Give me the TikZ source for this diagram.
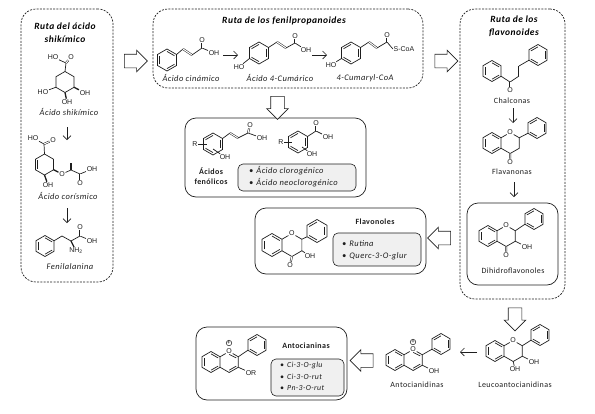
\documentclass[tikz,border=0pt]{standalone}
\usepackage{fontspec}
\setmainfont{Carlito}[LetterSpace=5]
\newfontfamily\atomf{Liberation Sans}
\usetikzlibrary{calc,arrows.meta,shapes.arrows}
\definecolor{ink}{HTML}{1E1E1E}
\definecolor{panel}{HTML}{F0F0F0}
\tikzset{
  b/.style={draw=ink,line width=.7pt},
  dbl/.style={draw=ink,line width=.5pt,double,double distance=1pt},
  wb/.style={draw=ink,line width=1.3pt},
  atm/.style={inner sep=.6pt,font=\atomf\fontsize{7}{8}\selectfont,text=ink},
  plusmark/.style={circle,draw=ink,line width=.5pt,inner sep=0pt,minimum size=5.5pt,font=\atomf\fontsize{6}{6}\selectfont},
  lab/.style={inner sep=0pt,font=\fontsize{8}{9}\selectfont,text=ink},
  ilab/.style={inner sep=0pt,font=\itshape\fontsize{8.5}{9}\selectfont,text=ink},
  slab/.style={inner sep=0pt,font=\itshape\fontsize{7.8}{9}\selectfont,text=ink},
  ttl/.style={inner sep=0pt,font=\bfseries\itshape\fontsize{9.5}{11}\selectfont,text=black},
  btl/.style={inner sep=0pt,font=\bfseries\fontsize{8}{9}\selectfont,text=ink},
  route/.style={draw=ink,dashed,dash pattern=on 2pt off 1.3pt,line width=.7pt,rounded corners=15pt,inner sep=0pt},
  card/.style={draw=ink,line width=.7pt,rounded corners=11pt,inner sep=0pt},
  panelbox/.style={draw=ink,line width=.6pt,fill=panel,rounded corners=5pt,inner sep=0pt},
  thinarrow/.style={draw=ink,line width=.6pt,-{Straight Barb[length=4pt,width=8pt]}},
  block/.style={single arrow,draw=ink,line width=.6pt,fill=white,inner xsep=0pt,inner ysep=6.5pt,single arrow head extend=4pt,single arrow tip angle=90,minimum height=23pt},
}
% coordinates of a pointed-top hexagon: v0 top, clockwise
\newcommand{\hexc}[4]{%
  \coordinate (#1c) at ({#2},{#3});
  \foreach \k in {0,...,5}{\coordinate (#1\k) at ({(#2)+(#4)*cos(-90+60*\k)},{(#3)+(#4)*sin(-90+60*\k)});}%
}
\newcommand{\hexp}[4]{%
  \hexc{#1}{#2}{#3}{#4}%
  \draw[b] (#10)--(#11)--(#12)--(#13)--(#14)--(#15)--cycle;%
}
\newcommand{\innerb}[2]{%
  \pgfmathtruncatemacro\nxt{mod(#2+1,6)}%
  \draw[b] ($(#1c)!.78!(#1#2)$) -- ($(#1c)!.78!(#1\nxt)$);%
}
\newcommand{\hexr}[5]{%
  \hexp{#1}{#2}{#3}{#4}%
  \foreach \e in {#5}{\innerb{#1}{\e}}%
}
% A ring, O-containing ring, B ring
\newcommand{\flav}[6]{%
  \hexr{#1a}{#2}{#3}{#4}{0,2,4}%
  \hexc{#1c}{(#2)+1.732*(#4)}{#3}{#4}%
  \hexr{#1b}{#5}{#6}{#4}{1,3,5}%
  \node[atm] (#1O) at (#1c0) {O};%
  \draw[b] (#1a1)--(#1O)--(#1c1)--(#1c2)--(#1c3)--(#1a2);%
  \draw[b] (#1c1)--(#1b4);%
}
\begin{document}
\begin{tikzpicture}[x=1pt,y=-1pt]
\useasboundingbox (0,0) rectangle (595,413);
% ---------- containers
\node[route,minimum width=92pt,minimum height=273pt] (route1) at (67,145.5) {};
\node[route,minimum width=270pt,minimum height=79pt] (route2) at (288,48.5) {};
\node[route,minimum width=105pt,minimum height=290pt] (route3) at (512.5,154) {};
\node[card,minimum width=181pt,minimum height=79pt] (acids) at (275.5,157.5) {};
\node[card,minimum width=171pt,minimum height=66pt] (flavonols) at (340.5,241) {};
\node[card,minimum width=91pt,minimum height=82pt] (dihydro) at (512.5,244) {};
\node[card,minimum width=151pt,minimum height=73pt] (antho) at (271.5,363.5) {};
\node[panelbox,minimum width=118pt,minimum height=27pt] (pan1) at (297,177.5) {};
\node[panelbox,minimum width=88pt,minimum height=33pt] (pan2) at (377,249.5) {};
\node[panelbox,minimum width=73pt,minimum height=37pt] (pan3) at (307.5,377.5) {};
% ---------- block arrows
\node[block] (ba1) at (132.5,61) {};
\node[block,rotate=-90] (ba2) at (277.5,104.5) {};
\node[block] (ba3) at (443,61) {};
\node[block,rotate=180] (ba4) at (442.5,238) {};
\node[block,rotate=-90] (ba5) at (515,316) {};
\node[block,rotate=180] (ba6) at (365,360.5) {};
% ---------- titles
\node[ttl] (t1a) at (65,26) {Ruta del ácido};
\node[ttl] (t1b) at (65,39) {shikímico};
\node[ttl] (t2) at (284,21) {Ruta de los fenilpropanoides};
\node[ttl] (t3a) at (514,19) {Ruta de los};
\node[ttl] (t3b) at (514,33) {flavonoides};
% ---------- shikimic acid
\hexp{sk}{65}{82}{10.5}
\coordinate (skC) at (66,63);
\node[atm] (skho) at (53,57) {HO};
\node[atm] (sko) at (71,57) {O};
\draw[b] (sk0)--(skC)--(skho);
\draw[dbl] (skC)--(sko);
\node[atm] (skoh1) at (43,92) {HO};
\node[atm] (skoh2) at (85,93) {OH};
\node[atm] (skoh3) at (67,102) {OH};
\draw[b] (sk4)--(skoh1);
\draw[wb] (sk2)--(skoh2);
\draw[wb] (sk3)--(skoh3);
\node[ilab] (lsk) at (69,112) {Ácido shikímico};
\coordinate (a1s) at (67,127); \coordinate (a1e) at (67,140);
\draw[thinarrow] (a1s)--(a1e);
% ---------- chorismic acid
\hexr{ch}{44.5}{164.5}{10.5}{4}
\coordinate (chC) at (44,144);
\node[atm] (chho) at (33,138) {HO};
\node[atm] (cho) at (53,140) {O};
\draw[b] (ch0)--(chC)--(chho);
\draw[dbl] (chC)--(cho);
\node[atm] (choe) at (62,174) {O};
\draw[wb] (ch2)--(choe);
\coordinate (ch7) at (71,170); \coordinate (chm) at (71,163); \coordinate (ch8) at (80,174);
\node[atm] (choh) at (92,169) {OH};
\node[atm] (cho2) at (80,183) {O};
\draw[b] (choe)--(ch7)--(ch8)--(choh);
\draw[wb] (ch7)--(chm);
\draw[dbl] (ch8)--(cho2);
\node[atm] (choh2) at (48,185) {OH};
\draw[wb] (ch3)--(choh2);
\node[ilab] (lch) at (68,196) {Ácido corísmico};
\coordinate (a2s) at (67,208); \coordinate (a2e) at (67,223);
\draw[thinarrow] (a2s)--(a2e);
% ---------- phenylalanine
\hexr{ph}{45}{246}{10.5}{0,2,4}
\coordinate (ph7) at (62,236); \coordinate (ph8) at (71,241); \coordinate (ph9) at (80,236);
\node[atm] (pho) at (80,227) {O};
\node[atm] (phoh) at (92,241) {OH};
\node[atm] (phn) at (76,251) {NH\textsubscript{2}};
\draw[b] (ph1)--(ph7)--(ph8)--(ph9)--(phoh);
\draw[dbl] (ph9)--(pho);
\draw[wb] (ph8)--(phn);
\node[ilab] (lph) at (70,267) {Fenilalanina};
% ---------- cinnamic acid
\hexr{ci}{167}{60}{11}{0,2,4}
\coordinate (ci7) at (183,49); \coordinate (ci8) at (192,55); \coordinate (ci9) at (202,48);
\node[atm] (cio) at (202,40) {O};
\node[atm] (cioh) at (214,53) {OH};
\draw[b] (ci1)--(ci7);
\draw[dbl] (ci7)--(ci8);
\draw[b] (ci8)--(ci9)--(cioh);
\draw[dbl] (ci9)--(cio);
\node[ilab] (lci) at (191,78) {Ácido cinámico};
\coordinate (a3s) at (223,55); \coordinate (a3e) at (238,55);
\draw[thinarrow] (a3s)--(a3e);
% ---------- 4-coumaric acid
\hexr{cu}{259}{53}{11}{1,3,5}
\node[atm] (cuho) at (239,67) {HO};
\draw[b] (cu4)--(cuho);
\coordinate (cu7) at (277,42); \coordinate (cu8) at (286,48); \coordinate (cu9) at (295,43);
\node[atm] (cuo) at (295,36) {O};
\node[atm] (cuoh) at (306,50) {OH};
\draw[b] (cu1)--(cu7);
\draw[dbl] (cu7)--(cu8);
\draw[b] (cu8)--(cu9)--(cuoh);
\draw[dbl] (cu9)--(cuo);
\node[ilab] (lcu) at (280,78) {Ácido 4-Cumárico};
\coordinate (a4s) at (312,55); \coordinate (a4e) at (327,55);
\draw[thinarrow] (a4s)--(a4e);
% ---------- coumaryl-CoA
\hexr{co}{351}{53}{11}{1,3,5}
\node[atm] (coho) at (331,65) {HO};
\draw[b] (co4)--(coho);
\coordinate (co7) at (369,42); \coordinate (co8) at (377,48); \coordinate (co9) at (387,42);
\node[atm] (coo) at (387,35) {O};
\node[atm] (cos) at (404,49) {S-CoA};
\draw[b] (co1)--(co7);
\draw[dbl] (co7)--(co8);
\draw[b] (co8)--(co9)--(cos.west);
\draw[dbl] (co9)--(coo);
\node[ilab] (lco) at (365,78) {4-Cumaryl-CoA};
% ---------- phenolic acids
\hexr{pa}{213}{144}{11}{1,3,5}
\node[atm] (par) at (195,144) {R};
\node[atm] (paoh) at (225,157) {OH};
\coordinate (pain1) at (207,144); \coordinate (pain2) at (213,149);
\draw[b] (par)--(pain1);
\draw[b] (pain2)--(paoh);
\coordinate (pa7) at (230,133); \coordinate (pa8) at (238,138); \coordinate (pa9) at (248,133);
\node[atm] (pao) at (250,125) {O};
\node[atm] (pah) at (262,138) {OH};
\draw[b] (pa1)--(pa7);
\draw[dbl] (pa7)--(pa8);
\draw[b] (pa8)--(pa9)--(pah);
\draw[dbl] (pa9)--(pao);
\hexr{pb}{298}{142}{11}{1,3,5}
\node[atm] (pbr) at (281,142) {R};
\node[atm] (pboh) at (312,154) {OH};
\coordinate (pbin1) at (292,142); \coordinate (pbin2) at (302,147);
\draw[b] (pbr)--(pbin1);
\draw[b] (pbin2)--(pboh);
\coordinate (pb7) at (316,131);
\node[atm] (pbo) at (316,123) {O};
\node[atm] (pbh) at (328,137) {OH};
\draw[b] (pb1)--(pb7)--(pbh);
\draw[dbl] (pb7)--(pbo);
\node[btl] (lac1) at (211,171) {Ácidos};
\node[btl] (lac2) at (211,182) {fenólicos};
\node[ilab,anchor=west] (pt1) at (249,171) {•\hspace{3pt}Ácido clorogénico};
\node[ilab,anchor=west] (pt2) at (249,183) {•\hspace{3pt}Ácido neoclorogénico};
% ---------- flavonols
\flav{fl}{272}{245}{11.5}{317}{231}
\node[atm] (flko) at (290,265) {O};
\draw[dbl] (flc3)--(flko);
\node[atm] (floh) at (310,256) {OH};
\draw[b] (flc2)--(floh);
\node[btl] (lfl) at (375,222) {Flavonoles};
\node[ilab,anchor=west] (ft1) at (342,244) {•\hspace{3pt}Rutina};
\node[ilab,anchor=west] (ft2) at (342,256) {•\hspace{3pt}Querc-3-O-glur};
% ---------- chalcones
\hexr{cha}{492}{71}{10.5}{0,2,4}
\hexr{chb}{538}{55}{10.5}{1,3,5}
\coordinate (ch1c) at (510,82); \coordinate (ch2c) at (519,76); \coordinate (ch3c) at (519,66);
\node[atm] (chko) at (510,90.5) {O};
\draw[b] (cha2)--(ch1c)--(ch2c);
\draw[dbl] (ch2c)--(ch3c);
\draw[b] (ch3c)--(chb4);
\draw[dbl] (ch1c)--(chko);
\node[lab] (lchal) at (512,101) {Chalconas};
\coordinate (a5s) at (513,108); \coordinate (a5e) at (513,123);
\draw[thinarrow] (a5s)--(a5e);
% ---------- flavanones
\flav{fv}{492}{143}{10.5}{537}{128}
\node[atm] (fvko) at (510,162) {O};
\draw[dbl] (fvc3)--(fvko);
\node[lab] (lfv) at (512,172) {Flavanonas};
\coordinate (a6s) at (514,182); \coordinate (a6e) at (514,197);
\draw[thinarrow] (a6s)--(a6e);
% ---------- dihydroflavonols
\flav{dh}{488}{236}{10.5}{534}{219}
\node[atm] (dhko) at (506,255) {O};
\draw[dbl] (dhc3)--(dhko);
\node[atm] (dhoh) at (527,247) {OH};
\draw[b] (dhc2)--(dhoh);
\node[lab] (ldh) at (513,271) {Dihidroflavonoles};
% ---------- leucoanthocyanidins
\flav{le}{495}{351}{10.5}{540}{335}
\node[atm] (leoh1) at (515,369) {OH};
\node[atm] (leoh2) at (534,362) {OH};
\draw[b] (lec3)--(leoh1);
\draw[b] (lec2)--(leoh2);
\node[lab] (lle) at (515,385) {Leucoantocianidinas};
\coordinate (a7s) at (477,352); \coordinate (a7e) at (460,352);
\draw[thinarrow] (a7s)--(a7e);
% ---------- anthocyanidins
\flav{an}{395}{360}{10.5}{441}{344}
\innerb{anc}{2}
\draw[b] ($(ancc)!.72!(anc0)$)--($(ancc)!.78!(anc1)$);
\node[plusmark] (anp) at (413,342) {+};
\node[atm] (anoh) at (434,371) {OH};
\draw[b] (anc2)--(anoh);
\node[lab] (lan) at (417,385) {Antocianidinas};
% ---------- anthocyanins
\flav{ai}{211}{362}{10.5}{257}{345}
\innerb{aic}{2}
\draw[b] ($(aicc)!.72!(aic0)$)--($(aicc)!.78!(aic1)$);
\node[plusmark] (aip) at (229,343) {+};
\node[atm] (aior) at (251,373) {OR};
\draw[b] (aic2)--(aior);
\node[btl] (lai) at (306,346) {Antocianinas};
\node[slab,anchor=west] (at1) at (280,365) {•\hspace{3pt}Ci-3-O-glu};
\node[slab,anchor=west] (at2) at (280,377) {•\hspace{3pt}Ci-3-O-rut};
\node[slab,anchor=west] (at3) at (280,388) {•\hspace{3pt}Pn-3-O-rut};
\end{tikzpicture}
\end{document}
